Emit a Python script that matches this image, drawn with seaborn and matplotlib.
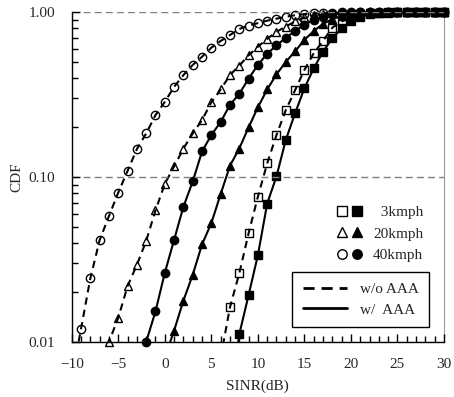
import numpy as np
import pandas as pd
import seaborn as sns
import matplotlib
matplotlib.use("Agg")
import matplotlib.pyplot as plt
from matplotlib.lines import Line2D
from matplotlib.legend_handler import HandlerTuple
from matplotlib.ticker import FixedLocator, MultipleLocator, LogLocator, NullFormatter, FuncFormatter

# ---------------- data ----------------
x_start_40_wo = -10
cdf_40_wo = [0.006, 0.012, 0.0243, 0.0414, 0.058, 0.0805, 0.109, 0.148, 0.184, 0.238,
             0.286, 0.353, 0.416, 0.479, 0.537, 0.61, 0.67, 0.728, 0.792, 0.83,
             0.86, 0.89, 0.915, 0.94, 0.96, 0.975, 0.985, 0.993, 0.997, 1.0,
             1.0, 1.0, 1.0, 1.0, 1.0, 1.0, 1.0, 1.0, 1.0, 1.0, 1.0]

x_start_40_w = -3
cdf_40_w = [0.0065, 0.0100, 0.0153, 0.0262, 0.0416, 0.066, 0.094, 0.143, 0.18, 0.216,
            0.274, 0.32, 0.395, 0.48, 0.56, 0.63, 0.70, 0.77, 0.84, 0.90,
            0.94, 0.97, 0.985, 0.995, 1.0, 1.0, 1.0, 1.0, 1.0, 1.0,
            1.0, 1.0, 1.0, 1.0]

x_start_20_wo = -7
cdf_20_wo = [0.0068, 0.0100, 0.014, 0.0218, 0.0293, 0.041, 0.0627, 0.091, 0.116, 0.149,
             0.184, 0.222, 0.284, 0.34, 0.416, 0.475, 0.547, 0.618, 0.69, 0.76,
             0.82, 0.88, 0.93, 0.96, 0.98, 0.99, 0.995, 1.0, 1.0, 1.0,
             1.0, 1.0, 1.0, 1.0, 1.0, 1.0, 1.0, 1.0]

x_start_20_w = 0
cdf_20_w = [0.008, 0.0117, 0.0178, 0.0255, 0.039, 0.0525, 0.0788, 0.117, 0.149, 0.20,
            0.265, 0.34, 0.42, 0.50, 0.58, 0.68, 0.77, 0.85, 0.91, 0.95,
            0.98, 0.99, 0.997, 1.0, 1.0, 1.0, 1.0, 1.0, 1.0, 1.0, 1.0]

x_start_3_wo = 6
cdf_3_wo = [0.008, 0.0162, 0.026, 0.0455, 0.076, 0.121, 0.18, 0.255, 0.337, 0.447,
            0.564, 0.67, 0.807, 0.88, 0.93, 0.965, 0.985, 0.995, 1.0, 1.0,
            1.0, 1.0, 1.0, 1.0, 1.0]

x_start_3_w = 7
cdf_3_w = [0.004, 0.0111, 0.0192, 0.0335, 0.069, 0.101, 0.168, 0.244, 0.346, 0.457,
           0.577, 0.695, 0.80, 0.88, 0.94, 0.97, 0.985, 0.995, 1.0, 1.0,
           1.0, 1.0, 1.0, 1.0]

speed_labels = ["  3kmph", "20kmph", "40kmph"]
mode_labels = ["w/o AAA", "w/  AAA"]
x_ticks = [-10, -5, 0, 5, 10, 15, 20, 25, 30]
y_ticks = [0.01, 0.1, 1.0]

# ---------------- style ----------------
sns.set_style("white")
plt.rcParams.update({
    "font.family": ["Liberation Serif", "DejaVu Serif"],
    "xtick.direction": "in", "ytick.direction": "in",
    "xtick.bottom": True, "ytick.left": True,
})
FS = 11

fig = plt.figure(figsize=(4.54, 3.97), dpi=100)
ax = fig.add_axes([0.158, 0.139, 0.820, 0.830])
ax.set_yscale("log")

DASH = (0, (3.5, 2.5))
series = [
    (x_start_40_wo, cdf_40_wo, "o", "none", DASH),
    (x_start_20_wo, cdf_20_wo, "^", "none", DASH),
    (x_start_3_wo, cdf_3_wo, "s", "none", DASH),
    (x_start_40_w, cdf_40_w, "o", "black", "-"),
    (x_start_20_w, cdf_20_w, "^", "black", "-"),
    (x_start_3_w, cdf_3_w, "s", "black", "-"),
]

for i, (x0, vals, mk, fc, ls) in enumerate(series):
    df = pd.DataFrame({"SINR": np.arange(x0, x0 + len(vals)), "CDF": vals})
    sns.lineplot(data=df, x="SINR", y="CDF", ax=ax, color="black", linestyle=ls,
                 linewidth=1.5, estimator=None, legend=False, zorder=2 + i)
    vis = df[df["CDF"] >= 0.0095]
    sns.lineplot(data=vis, x="SINR", y="CDF", ax=ax, color="black", linestyle="none",
                 marker=mk, markersize=6.0, markerfacecolor=fc, markeredgecolor="black",
                 markeredgewidth=1.0, estimator=None, legend=False, clip_on=False,
                 zorder=3 + i)

ax.set_xlim(-10, 30)
ax.set_ylim(0.01, 1.0)
ax.xaxis.set_major_locator(FixedLocator(x_ticks))
ax.xaxis.set_minor_locator(MultipleLocator(1))
ax.yaxis.set_major_locator(FixedLocator(y_ticks))
ax.yaxis.set_major_formatter(FuncFormatter(lambda v, p: f"{v:.2f}"))
ax.yaxis.set_minor_locator(LogLocator(base=10, subs=np.arange(2, 10)))
ax.yaxis.set_minor_formatter(NullFormatter())

ax.yaxis.grid(True, which="major", linestyle=(0, (5, 3)), color="#7f7f7f", linewidth=1)
ax.spines["top"].set_visible(False)
ax.spines["right"].set_color("#9a9a9a")
for s in ("left", "bottom"):
    ax.spines[s].set_color("black")
    ax.spines[s].set_linewidth(1)

ax.set_xlabel("SINR(dB)", fontsize=FS, labelpad=6)
ax.set_ylabel("CDF", fontsize=FS, labelpad=4)

# legend 1: marker pairs (no frame)
def mk_pair(m):
    return (Line2D([], [], marker=m, ls="none", mfc="none", mec="black", mew=1, ms=6.8),
            Line2D([], [], marker=m, ls="none", mfc="black", mec="black", mew=1, ms=6.8))

leg1 = ax.legend(handles=[mk_pair("s"), mk_pair("^"), mk_pair("o")], labels=speed_labels,
                 handler_map={tuple: HandlerTuple(ndivide=None, pad=0.0)},
                 frameon=False, loc="upper left", bbox_to_anchor=(0.696, 0.4235),
                 borderaxespad=0, fontsize=FS, handlelength=2.04, handletextpad=0.52,
                 labelspacing=0.51, borderpad=0.2)
ax.add_artist(leg1)

h_wo = Line2D([], [], color="black", lw=2, linestyle=(0, (4, 2.5)))
h_w = Line2D([], [], color="black", lw=2, linestyle="-")
leg2 = ax.legend(handles=[h_wo, h_w], labels=mode_labels, loc="upper left",
                 bbox_to_anchor=(0.5925, 0.2116), borderaxespad=0, fontsize=FS,
                 frameon=True, fancybox=False, edgecolor="black", framealpha=1,
                 handlelength=2.85, handletextpad=0.85, labelspacing=0.425,
                 borderpad=0.7)
leg2.get_frame().set_linewidth(1)

# ticks: applied last, axis drawn above the data
ax.xaxis.set_zorder(20)
ax.yaxis.set_zorder(20)
ax.tick_params(axis="both", which="both", direction="in", color="black",
               labelsize=FS, bottom=True, left=True, top=False, right=False,
               width=1, tick1On=True)
ax.tick_params(axis="both", which="major", length=6, pad=12)
ax.tick_params(axis="both", which="minor", length=4)
for t in (ax.xaxis.get_major_ticks() + ax.xaxis.get_minor_ticks()
          + ax.yaxis.get_major_ticks() + ax.yaxis.get_minor_ticks()):
    t.tick1line.set_visible(True)
    t.tick1line.set_markeredgecolor("black")

fig.savefig("out.png", dpi=100)
